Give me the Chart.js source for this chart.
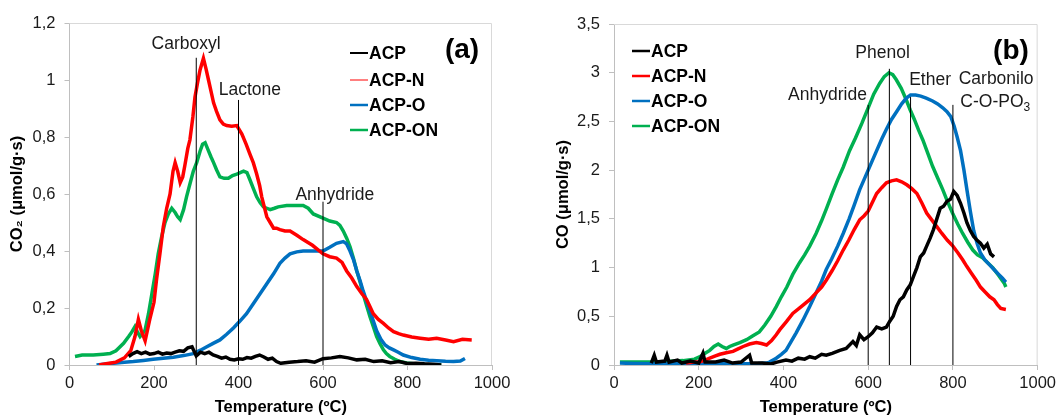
<!DOCTYPE html>
<html>
<head>
<meta charset="utf-8">
<script src="https://cdn.jsdelivr.net/npm/chart.js@4.4.0/dist/chart.umd.min.js"></script>
<style>
  html, body { margin: 0; padding: 0; background: #fff; }
  #wrap { width: 1060px; height: 419px; position: relative; overflow: hidden; }
  canvas { position: absolute; top: 0; }
  #chartA { left: 0; }
  #chartB { left: 530px; }
</style>
</head>
<body>
<div id="wrap">
  <canvas id="chartA" width="530" height="419"></canvas>
  <canvas id="chartB" width="530" height="419"></canvas>
</div>
<script>
// series names and colours
const seriesNames = ['ACP', 'ACP-N', 'ACP-O', 'ACP-ON']
const seriesColors = ['#000000', '#ff0000', '#0070c0', '#00b050']

// x axis ticks (temperature, ºC)
const tempTicks = [0, 200, 400, 600, 800, 1000]
const co2Ticks = [0, 0.2, 0.4, 0.6, 0.8, 1, 1.2]
const coTicks = [0, 0.5, 1, 1.5, 2, 2.5, 3, 3.5]

// (a) CO2 desorption, [temperature, µmol/g·s]
const co2ACP = [[140,0.03],[150,0.04],[160,0.047],[170,0.04],[180,0.045],[190,0.038],[200,0.04],[210,0.045],[220,0.038],[230,0.042],[240,0.04],[250,0.045],[260,0.05],[270,0.048],[280,0.06],[290,0.064],[300,0.032],[310,0.045],[320,0.04],[330,0.045],[340,0.035],[350,0.03],[360,0.024],[370,0.028],[380,0.02],[390,0.018],[400,0.022],[410,0.02],[420,0.026],[430,0.024],[440,0.03],[450,0.035],[460,0.028],[470,0.02],[480,0.024],[490,0.012],[500,0.006],[520,0.01],[540,0.012],[560,0.015],[580,0.01],[600,0.022],[620,0.025],[640,0.03],[660,0.025],[680,0.018],[700,0.02],[720,0.012],[740,0.015],[760,0.008],[780,0.012],[800,0.005],[820,0.006],[840,0.004],[860,0.003],[880,0]]
const co2ACPN = [[70,0],[90,0.005],[110,0.01],[130,0.025],[145,0.05],[155,0.1],[163,0.16],[170,0.12],[179,0.085],[190,0.16],[200,0.22],[206,0.3],[214,0.39],[222,0.485],[230,0.55],[238,0.6],[245,0.68],[250,0.71],[256,0.68],[262,0.64],[268,0.66],[273,0.7],[280,0.76],[285,0.79],[292,0.87],[297,0.94],[303,0.99],[309,1.035],[317,1.076],[323,1.04],[329,1.0],[335,0.96],[341,0.92],[348,0.89],[356,0.86],[364,0.845],[372,0.84],[384,0.838],[396,0.84],[408,0.81],[418,0.775],[427,0.74],[435,0.71],[443,0.67],[450,0.63],[455,0.59],[461,0.555],[467,0.52],[475,0.5],[483,0.48],[490,0.48],[498,0.475],[510,0.47],[522,0.47],[538,0.455],[553,0.44],[575,0.42],[600,0.39],[616,0.38],[632,0.375],[645,0.36],[656,0.33],[668,0.305],[680,0.275],[692,0.25],[703,0.23],[711,0.205],[719,0.18],[731,0.16],[743,0.146],[755,0.13],[767,0.117],[779,0.11],[790,0.105],[810,0.098],[830,0.094],[850,0.09],[869,0.094],[890,0.088],[909,0.082],[930,0.09],[952,0.088]]
const co2ACPO = [[64,0],[80,0.003],[104,0.006],[130,0.01],[151,0.012],[175,0.016],[198,0.02],[222,0.024],[246,0.027],[270,0.033],[293,0.04],[310,0.052],[325,0.064],[340,0.076],[356,0.088],[372,0.108],[388,0.13],[404,0.155],[419,0.18],[435,0.215],[451,0.25],[467,0.285],[483,0.32],[498,0.357],[510,0.375],[522,0.39],[538,0.397],[553,0.4],[575,0.4],[600,0.4],[616,0.413],[632,0.427],[648,0.433],[656,0.425],[664,0.4],[672,0.37],[680,0.33],[688,0.295],[695,0.26],[703,0.225],[711,0.19],[719,0.155],[727,0.12],[737,0.09],[747,0.07],[757,0.06],[767,0.053],[778,0.045],[790,0.035],[810,0.026],[830,0.02],[850,0.017],[869,0.015],[890,0.013],[909,0.012],[925,0.014],[936,0.023]]
const co2ACPON = [[13,0.03],[30,0.035],[56,0.035],[80,0.038],[96,0.04],[110,0.05],[128,0.076],[140,0.1],[148,0.117],[155,0.135],[161,0.115],[167,0.1],[173,0.11],[179,0.123],[187,0.18],[195,0.25],[203,0.32],[210,0.39],[218,0.45],[226,0.5],[234,0.53],[242,0.55],[250,0.535],[256,0.52],[262,0.51],[270,0.545],[277,0.59],[285,0.635],[293,0.68],[301,0.71],[309,0.75],[315,0.775],[321,0.78],[328,0.755],[335,0.73],[341,0.71],[348,0.685],[356,0.66],[366,0.655],[376,0.655],[386,0.665],[396,0.67],[404,0.675],[412,0.68],[420,0.675],[427,0.65],[435,0.62],[443,0.59],[451,0.57],[459,0.555],[467,0.55],[475,0.545],[485,0.55],[494,0.555],[514,0.56],[535,0.56],[553,0.56],[565,0.55],[577,0.53],[600,0.515],[616,0.505],[632,0.5],[640,0.49],[648,0.47],[656,0.445],[664,0.415],[672,0.375],[680,0.33],[688,0.29],[695,0.25],[703,0.21],[711,0.17],[719,0.135],[727,0.1],[735,0.075],[743,0.053],[750,0.04],[758,0.03],[770,0.02],[782,0.012],[798,0.007],[814,0.004],[835,0.002],[853,0],[880,0]]

// (b) CO desorption, [temperature, µmol/g·s]
const coACP = [[88,0.02],[95,0.1],[100,0.03],[120,0.04],[125,0.1],[130,0.03],[150,0.05],[160,0.02],[180,0.04],[200,0.02],[210,0.12],[215,0.03],[240,0.03],[260,0.05],[280,0.02],[300,0.03],[320,0.1],[325,0.02],[350,0.02],[370,0.01],[385,0.03],[406,0.05],[420,0.04],[435,0.07],[450,0.06],[462,0.085],[475,0.07],[490,0.11],[501,0.1],[515,0.12],[533,0.15],[548,0.17],[564,0.24],[572,0.2],[580,0.31],[590,0.26],[600,0.29],[610,0.33],[620,0.39],[632,0.37],[643,0.39],[651,0.45],[659,0.5],[667,0.6],[675,0.67],[683,0.7],[691,0.77],[699,0.82],[707,0.91],[715,1.0],[723,1.11],[731,1.15],[738,1.22],[746,1.3],[754,1.39],[762,1.5],[770,1.61],[778,1.63],[786,1.68],[794,1.7],[802,1.78],[810,1.74],[818,1.66],[826,1.56],[833,1.46],[841,1.38],[849,1.32],[857,1.28],[865,1.25],[873,1.2],[881,1.24],[889,1.14],[897,1.11]]
const coACPN = [[170,0.02],[190,0.03],[203,0.034],[215,0.05],[226,0.07],[238,0.09],[250,0.11],[265,0.125],[281,0.14],[293,0.165],[305,0.19],[320,0.215],[336,0.23],[348,0.22],[360,0.205],[372,0.25],[383,0.31],[391,0.36],[407,0.445],[422,0.53],[442,0.6],[462,0.67],[477,0.74],[490,0.8],[501,0.87],[515,0.97],[528,1.07],[541,1.18],[554,1.28],[567,1.39],[580,1.49],[590,1.53],[600,1.58],[610,1.67],[620,1.76],[632,1.82],[643,1.87],[655,1.89],[667,1.9],[679,1.88],[691,1.85],[703,1.81],[715,1.76],[727,1.66],[738,1.56],[750,1.49],[762,1.42],[774,1.35],[787,1.28],[800,1.22],[812,1.15],[823,1.08],[833,1.01],[844,0.94],[855,0.87],[865,0.8],[876,0.75],[887,0.7],[897,0.67],[905,0.62],[913,0.58],[925,0.57]]
const coACPO = [[14,0.02],[50,0.015],[100,0.012],[150,0.012],[200,0.012],[250,0.012],[300,0.014],[340,0.015],[360,0.02],[367,0.03],[383,0.07],[395,0.11],[406,0.15],[418,0.24],[430,0.33],[446,0.46],[462,0.6],[477,0.74],[490,0.86],[501,0.98],[514,1.09],[528,1.22],[541,1.35],[555,1.5],[567,1.64],[580,1.8],[590,1.9],[600,2.0],[610,2.1],[620,2.2],[632,2.32],[643,2.42],[655,2.52],[667,2.6],[679,2.68],[690,2.74],[700,2.77],[712,2.77],[724,2.76],[737,2.74],[752,2.71],[764,2.68],[776,2.64],[786,2.6],[795,2.55],[803,2.45],[810,2.34],[818,2.2],[826,2.0],[833,1.8],[841,1.58],[849,1.38],[857,1.25],[865,1.15],[875,1.08],[886,1.03],[897,0.98],[908,0.93],[917,0.89],[925,0.85]]
const coACPON = [[14,0.03],[50,0.03],[85,0.03],[125,0.035],[163,0.045],[190,0.06],[203,0.085],[215,0.12],[226,0.15],[236,0.19],[246,0.215],[255,0.19],[265,0.17],[273,0.19],[281,0.205],[297,0.23],[313,0.26],[328,0.3],[343,0.34],[356,0.41],[370,0.5],[383,0.6],[395,0.7],[408,0.8],[422,0.93],[438,1.05],[450,1.13],[462,1.22],[477,1.35],[490,1.48],[501,1.6],[515,1.76],[528,1.9],[541,2.03],[556,2.2],[570,2.33],[585,2.48],[600,2.64],[613,2.78],[627,2.89],[638,2.96],[649,3.0],[658,2.98],[666,2.93],[678,2.84],[690,2.72],[699,2.62],[709,2.52],[719,2.41],[729,2.31],[741,2.17],[752,2.04],[764,1.92],[776,1.8],[787,1.68],[799,1.56],[811,1.45],[823,1.35],[835,1.26],[847,1.18],[858,1.13],[870,1.1],[882,1.05],[894,1.0],[908,0.92],[921,0.84],[925,0.8]]

// peak marker lines: temperature and height of each line
const co2MarkTemp = [300, 400, 600]
const co2MarkTop = [1.078, 0.93, 0.573]
const coMarkTemp = [600, 650, 700, 800]
const coMarkTop = [2.67, 3.04, 2.75, 2.67]

const FONT = '"Liberation Sans", Arial, sans-serif'

function toXY(pairs) {
    return pairs.map(p => ({ x: p[0], y: p[1] }))
}

function buildDatasets(series, markTemp, markTop) {
    const sets = []
    // marker lines first in the list so they end up on top
    markTemp.forEach((t, i) => {
        sets.push({
            data: [{ x: t, y: 0 }, { x: t, y: markTop[i] }],
            borderColor: '#000', borderWidth: 1, pointRadius: 0, fill: false
        })
    })
    series.forEach((s, i) => {
        sets.push({
            label: seriesNames[i],
            data: toXY(s),
            borderColor: seriesColors[i],
            borderWidth: 3.5,
            pointRadius: 0,
            tension: 0,
            fill: false
        })
    })
    return sets
}

const overlay = {
    id: 'overlay',
    beforeDatasetsDraw(chart) {
        const ctx = chart.ctx, a = chart.chartArea
        ctx.save()
        ctx.strokeStyle = '#d9d9d9'
        ctx.lineWidth = 1
        ctx.beginPath()
        ctx.moveTo(a.left, a.top + 0.5)
        ctx.lineTo(a.right - 0.5, a.top + 0.5)
        ctx.lineTo(a.right - 0.5, a.bottom)
        ctx.stroke()
        ctx.restore()
    },
    afterDraw(chart, args, opts) {
        const ctx = chart.ctx
        const xs = chart.scales.x, ys = chart.scales.y
        ctx.save()
        ctx.fillStyle = '#1a1a1a'
        ctx.textBaseline = 'middle'

        // peak names
        ctx.font = '17.5px ' + FONT
        opts.peaks.forEach(p => {
            const px = xs.getPixelForValue(p.x), py = ys.getPixelForValue(p.y)
            if (p.sub) {
                const w1 = ctx.measureText(p.text).width
                ctx.font = '12px ' + FONT
                const w2 = ctx.measureText(p.sub).width
                ctx.font = '17.5px ' + FONT
                const x0 = px - (w1 + w2) / 2
                ctx.textAlign = 'left'
                ctx.fillText(p.text, x0, py)
                ctx.font = '12px ' + FONT
                ctx.fillText(p.sub, x0 + w1, py + 6)
                ctx.font = '17.5px ' + FONT
            } else {
                ctx.textAlign = 'center'
                ctx.fillText(p.text, px, py)
            }
        })

        // legend
        ctx.font = 'bold 17.5px ' + FONT
        ctx.textAlign = 'left'
        seriesNames.forEach((name, i) => {
            const y = opts.legendRows[i]
            ctx.strokeStyle = seriesColors[i]
            ctx.lineWidth = opts.legendWidths[i]
            ctx.beginPath()
            ctx.moveTo(opts.legendX, y)
            ctx.lineTo(opts.legendX + 18, y)
            ctx.stroke()
            ctx.fillStyle = '#000'
            ctx.fillText(name, opts.legendX + 19, y + 1)
        })

        // panel letter
        ctx.font = 'bold 28px ' + FONT
        ctx.textAlign = 'center'
        ctx.fillText(opts.panel, opts.panelX, opts.panelY)
        ctx.restore()
    }
}

function makeChart(canvasId, datasets, yMax, yStep, yTitle, yWidth, yTitlePad, pad, overlayOpts) {
    return new Chart(document.getElementById(canvasId), {
        type: 'line',
        data: { datasets: datasets },
        options: {
            responsive: false,
            animation: false,
            devicePixelRatio: 1,
            layout: { padding: pad },
            plugins: {
                legend: { display: false },
                tooltip: { enabled: false },
                overlay: overlayOpts
            },
            scales: {
                x: {
                    type: 'linear',
                    min: tempTicks[0],
                    max: tempTicks[tempTicks.length - 1],
                    afterBuildTicks: s => { s.ticks = tempTicks.map(v => ({ value: v })) },
                    afterFit: s => { s.height = 54 },
                    grid: { drawOnChartArea: false, color: '#bfbfbf', tickLength: 5 },
                    border: { color: '#bfbfbf' },
                    ticks: {
                        color: '#1a1a1a', padding: 4, maxRotation: 0,
                        font: { family: FONT, size: 16.5 },
                        callback: v => String(v)
                    },
                    title: {
                        display: true, text: 'Temperature (ºC)', color: '#000',
                        padding: { top: 0, bottom: 2 },
                        font: { family: FONT, size: 16.5, weight: 'bold' }
                    }
                },
                y: {
                    min: 0,
                    max: yMax,
                    ticks: {
                        stepSize: yStep, color: '#1a1a1a', padding: 9,
                        font: { family: FONT, size: 16.5 },
                        callback: v => String(Math.round(v * 10) / 10).replace('.', ',')
                    },
                    afterFit: s => { s.width = yWidth },
                    grid: { drawOnChartArea: false, color: '#bfbfbf', tickLength: 5 },
                    border: { color: '#bfbfbf' },
                    title: {
                        display: true, text: yTitle, color: '#000',
                        padding: { top: yTitlePad, bottom: 0 },
                        font: { family: FONT, size: 16.5, weight: 'bold' }
                    }
                }
            }
        },
        plugins: [overlay]
    })
}

makeChart('chartA',
    buildDatasets([co2ACP, co2ACPN, co2ACPO, co2ACPON], co2MarkTemp, co2MarkTop),
    co2Ticks[co2Ticks.length - 1], 0.2, 'CO₂ (μmol/g·s)', 69.5, 8, { top: 23, right: 38, bottom: 0, left: 0 },
    {
        peaks: [
            { text: 'Carboxyl', x: 276, y: 1.126 },
            { text: 'Lactone', x: 427, y: 0.965 },
            { text: 'Anhydride', x: 628, y: 0.597 }
        ],
        legendX: 350, legendRows: [53, 80, 105, 130], legendWidths: [2, 1, 2.5, 2.5],
        panel: '(a)', panelX: 462, panelY: 50
    })

makeChart('chartB',
    buildDatasets([coACP, coACPN, coACPO, coACPON], coMarkTemp, coMarkTop),
    coTicks[coTicks.length - 1], 0.5, 'CO (μmol/g·s)', 84, 24, { top: 24, right: 22, bottom: 0, left: 0 },
    {
        peaks: [
            { text: 'Anhydride', x: 504, y: 2.77 },
            { text: 'Phenol', x: 634, y: 3.2 },
            { text: 'Ether', x: 746, y: 2.92 },
            { text: 'Carbonilo', x: 902, y: 2.93 },
            { text: 'C-O-PO', sub: '3', x: 900, y: 2.7 }
        ],
        legendX: 102, legendRows: [51, 76, 101, 126], legendWidths: [2.5, 2.5, 2.5, 2.5],
        panel: '(b)', panelX: 481, panelY: 51
    })
</script>
</body>
</html>
